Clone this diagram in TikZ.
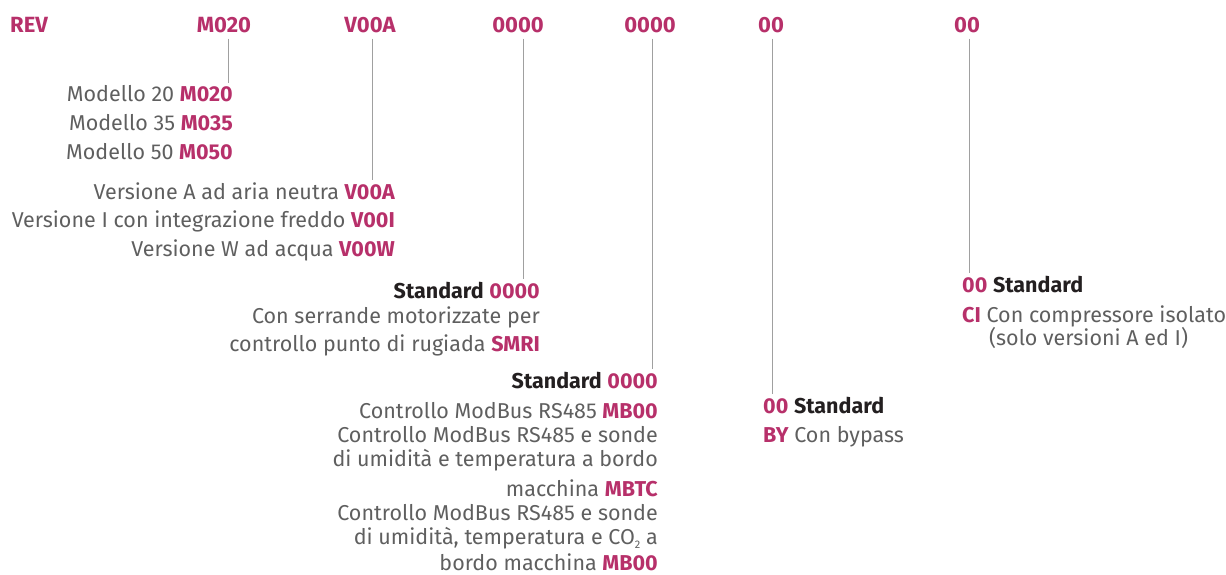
\documentclass[tikz,border=0pt]{standalone}
\usepackage{fontspec}
\setmainfont{Fira Sans}
\definecolor{mag}{RGB}{183,48,106}
\definecolor{txt}{RGB}{95,95,95}
\definecolor{dark}{RGB}{35,31,32}
\definecolor{ln}{RGB}{160,160,160}
\tikzset{
  lbl/.style={inner sep=0pt, font=\fontsize{21.5}{24}\selectfont, text=txt},
  hdr/.style={inner sep=0pt, font=\fontsize{22}{24}\selectfont\bfseries, text=mag, anchor=base},
  rl/.style={lbl, anchor=base east},
  ll/.style={lbl, anchor=base west},
  conn/.style={draw=ln, line width=0.8pt},
}
\newcommand{\cd}[1]{\textbf{\textcolor{mag}{#1}}}
\newcommand{\sd}[1]{\textbf{\textcolor{dark}{#1}}}
\begin{document}
\begin{tikzpicture}[x=1pt,y=-1pt]
\useasboundingbox (0,0) rectangle (1226,574);
% header
\node[hdr, anchor=base west] (hREV) at (10,32) {REV};
\node[hdr] (hM) at (224,32) {M020};
\node[hdr] (hV) at (370,32) {V00A};
\node[hdr] (hA) at (518,32) {0000};
\node[hdr] (hB) at (650,32) {0000};
\node[hdr] (hC) at (771,32) {00};
\node[hdr] (hD) at (967,32) {00};
% modello
\node[rl] (m20) at (233,101) {Modello 20 \cd{M020}};
\node[rl] (m35) at (233,130) {Modello 35 \cd{M035}};
\node[rl] (m50) at (233,159) {Modello 50 \cd{M050}};
% versione
\node[rl] (vA) at (395,199) {Versione A ad aria neutra \cd{V00A}};
\node[rl] (vI) at (395,227) {Versione I con integrazione freddo \cd{V00I}};
\node[rl] (vW) at (395,256) {Versione W ad acqua \cd{V00W}};
% serrande
\node[rl] (sA) at (540,298) {\sd{Standard} \cd{0000}};
\node[rl] (sA1) at (540,323) {Con serrande motorizzate per};
\node[rl] (sA2) at (540,351) {controllo punto di rugiada \cd{SMRI}};
% controllo
\node[rl] (sB) at (658,388) {\sd{Standard} \cd{0000}};
\node[rl] (sB1) at (658,418) {Controllo ModBus RS485 \cd{MB00}};
\node[rl] (sB2) at (658,442) {Controllo ModBus RS485 e sonde};
\node[rl] (sB3) at (658,466) {di umidità e temperatura a bordo};
\node[rl] (sB4) at (658,496) {macchina \cd{MBTC}};
\node[rl] (sB5) at (658,520) {Controllo ModBus RS485 e sonde};
\node[rl] (sB6) at (658,544) {di umidità, temperatura e CO\raisebox{-4pt}{\fontsize{11}{11}\selectfont 2} a};
\node[rl] (sB7) at (658,570) {bordo macchina \cd{MB00}};
% bypass
\node[ll] (sC) at (763,413) {\cd{00} \sd{Standard}};
\node[ll] (sC1) at (763,442) {\cd{BY} Con bypass};
% compressore
\node[ll] (sD) at (962,292) {\cd{00} \sd{Standard}};
\node[ll] (sD1) at (962,322) {\cd{CI} Con compressore isolato};
\node[ll] (sD2) at (989,345) {(solo versioni A ed I)};
% connectors
\draw[conn] ([xshift=4pt,yshift=-6pt]hM.south) -- ([xshift=4pt,yshift=2pt]hM.south |- m20.north);
\draw[conn] ([xshift=2pt,yshift=-6pt]hV.south) -- ([xshift=2pt,yshift=2pt]hV.south |- vA.north);
\draw[conn] ([xshift=5pt,yshift=-6pt]hA.south) -- ([xshift=5pt,yshift=2pt]hA.south |- sA.north);
\draw[conn] ([xshift=2pt,yshift=-6pt]hB.south) -- ([xshift=2pt,yshift=2pt]hB.south |- sB.north);
\draw[conn] ([xshift=1pt,yshift=-6pt]hC.south) -- ([xshift=1pt,yshift=2pt]hC.south |- sC.north);
\draw[conn] ([xshift=2pt,yshift=-6pt]hD.south) -- ([xshift=2pt,yshift=2pt]hD.south |- sD.north);
\end{tikzpicture}
\end{document}
